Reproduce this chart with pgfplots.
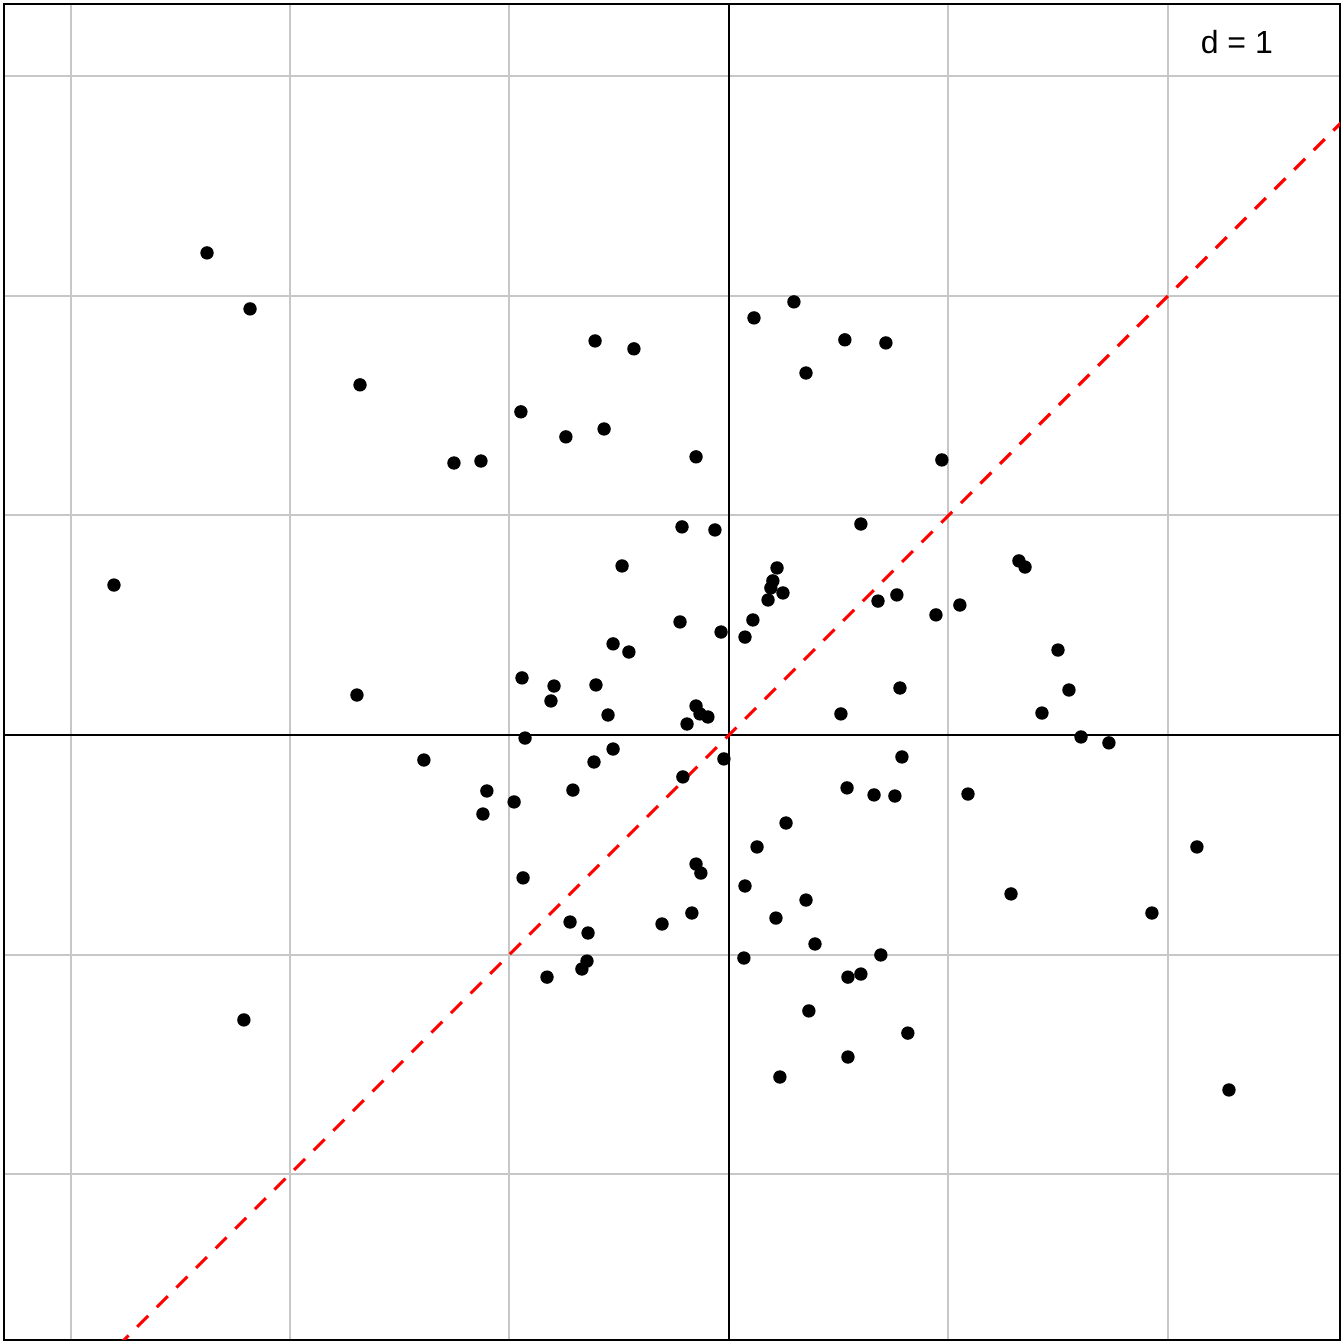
\documentclass[border=0pt]{standalone}
\usepackage{pgfplots}
\pgfplotsset{compat=1.18}
\usepackage{fontspec}
\setmainfont{Liberation Sans}
\begin{document}
\begin{tikzpicture}
\begin{axis}[
  scale only axis, width=501pt, height=501pt,
  xmin=-3.303, xmax=2.784, ymin=-2.756, ymax=3.330,
  xtick={-3,-2,-1,0,1,2}, ytick={-2,-1,0,1,2,3},
  xticklabels={}, yticklabels={}, major tick length=0pt,
  grid=major, grid style={color=black!22, line width=0.75pt},
  axis line style={black, line width=0.75pt},
  clip=true,
]
\addplot[black, line width=0.75pt, forget plot] coordinates {(-3.303,0) (2.784,0)};
\addplot[black, line width=0.75pt, forget plot] coordinates {(0,-2.756) (0,3.330)};
\addplot[red, line width=1.15pt, dash pattern=on 5.8pt off 4.6pt] coordinates {(-3.5,-3.5) (3.5,3.5)};
\addplot[only marks, mark=*, mark size=2.3pt, mark options={fill=black, draw=black}] coordinates {
(-2.378,2.196) (-2.182,1.941) (-1.681,1.595) (-2.802,0.683) (-1.695,0.182)
(-2.210,-1.298) (-1.390,-0.114) (-1.253,1.239) (-1.130,1.248) (-0.948,1.472)
(-0.743,1.358) (-0.569,1.394) (-0.610,1.795) (-0.433,1.759) (-0.150,1.267)
(0.114,1.900) (0.296,1.973) (0.528,1.800) (0.715,1.786) (0.351,1.649)
(0.970,1.253) (0.601,0.961) (-0.214,0.948) (-0.064,0.934) (-0.487,0.770)
(0.219,0.761) (0.200,0.702) (0.191,0.670) (0.246,0.647) (0.178,0.615)
(0.679,0.610) (0.765,0.638) (0.943,0.547) (1.052,0.592) (1.321,0.793)
(1.349,0.765) (0.109,0.524) (-0.223,0.515) (-0.036,0.469) (0.073,0.446)
(-0.528,0.415) (-0.456,0.378) (1.499,0.387) (-0.943,0.260) (-0.797,0.223)
(-0.606,0.228) (-0.811,0.155) (-0.551,0.091) (-0.150,0.132) (-0.191,0.050)
(-0.132,0.096) (-0.096,0.082) (0.510,0.096) (0.779,0.214) (1.549,0.205)
(1.426,0.100) (1.604,-0.009) (1.731,-0.036) (-0.929,-0.014) (-0.528,-0.064)
(-0.615,-0.123) (-0.023,-0.109) (-0.210,-0.191) (0.788,-0.100) (0.538,-0.241)
(0.661,-0.273) (0.756,-0.278) (1.089,-0.269) (-1.103,-0.255) (-0.979,-0.305)
(-0.711,-0.251) (-1.121,-0.360) (0.260,-0.401) (0.128,-0.510) (2.132,-0.510)
(-0.938,-0.651) (-0.150,-0.588) (-0.128,-0.629) (0.073,-0.688) (0.351,-0.752)
(1.285,-0.724) (1.927,-0.811) (-0.169,-0.811) (-0.305,-0.861) (0.214,-0.834)
(-0.724,-0.852) (-0.642,-0.902) (0.392,-0.952) (0.692,-1.002) (0.068,-1.016)
(-0.647,-1.030) (-0.670,-1.066) (-0.829,-1.103) (0.542,-1.103) (0.601,-1.089)
(0.364,-1.257) (0.815,-1.358) (0.542,-1.467) (0.232,-1.558) (2.278,-1.617)
};
\node[font=\fontsize{12}{14}\selectfont] at (axis cs:2.314,3.157) {d = 1};
\end{axis}
\pgfresetboundingbox
\path ([shift={(-1.5pt,-1.5pt)}]current axis.south west) rectangle ([shift={(1.5pt,1.5pt)}]current axis.north east);
\end{tikzpicture}
\end{document}
